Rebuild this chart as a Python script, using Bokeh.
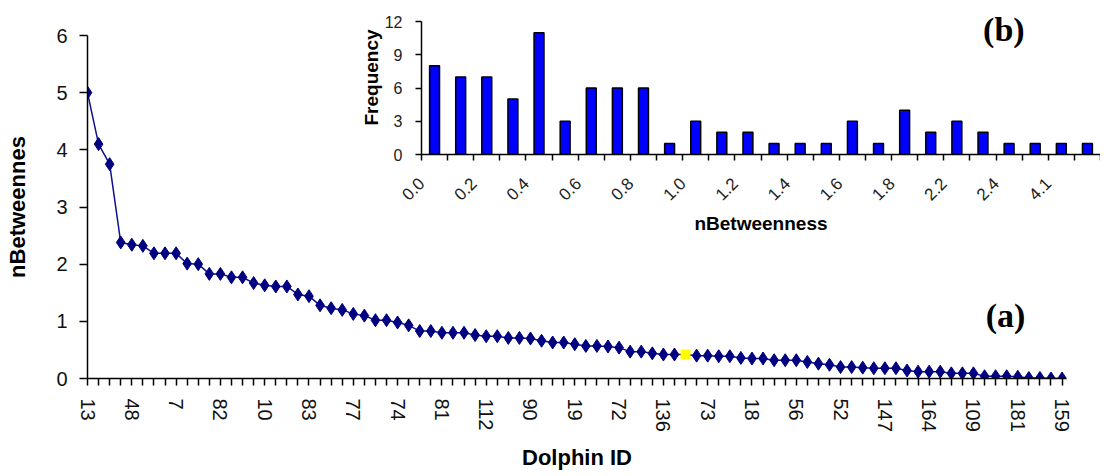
import math
from bokeh.plotting import figure
from bokeh.models import FixedTicker, Range1d, Label, ColumnDataSource
from bokeh.embed import file_html
from bokeh.resources import INLINE

# ---------------- data ----------------
# Dolphin IDs shown on the x axis (every 4th dolphin is labelled)
dolphin_ids_shown = ["13", "48", "7", "82", "10", "83", "77", "74", "81", "112", "90", "19",
                     "72", "136", "73", "18", "56", "52", "147", "164", "109", "181", "159"]
label_every = 4

# nBetweenness of the 89 dolphins, sorted descending
nbetweenness = [5.00, 4.10, 3.75, 2.38, 2.34, 2.32, 2.19, 2.19, 2.19, 2.01,
                2.00, 1.83, 1.83, 1.77, 1.77, 1.67, 1.63, 1.61, 1.61, 1.47,
                1.44, 1.28, 1.23, 1.20, 1.13, 1.10, 1.02, 1.02, 0.98, 0.93,
                0.83, 0.83, 0.80, 0.80, 0.80, 0.76, 0.74, 0.74, 0.71, 0.71,
                0.70, 0.66, 0.63, 0.63, 0.60, 0.57, 0.57, 0.56, 0.54, 0.47,
                0.47, 0.44, 0.42, 0.42, 0.42, 0.40, 0.40, 0.39, 0.39, 0.36,
                0.35, 0.35, 0.32, 0.32, 0.32, 0.29, 0.26, 0.24, 0.20, 0.20,
                0.19, 0.18, 0.18, 0.18, 0.14, 0.12, 0.12, 0.12, 0.09, 0.09,
                0.09, 0.04, 0.04, 0.04, 0.03, 0.01, 0.01, 0.00, 0.00]
highlight_index = 54   # the dolphin marked in yellow

# histogram (b)
bin_labels = ["0.0", "0.1", "0.2", "0.3", "0.4", "0.5", "0.6", "0.7", "0.8", "0.9",
              "1.0", "1.1", "1.2", "1.3", "1.4", "1.5", "1.6", "1.7", "1.8", "2.0",
              "2.2", "2.3", "2.4", "3.8", "4.1", "5.0"]
frequency = [8, 7, 7, 5, 11, 3, 6, 6, 6, 1, 3, 2, 2, 1, 1, 1, 3, 1, 4, 2, 3, 2, 1, 1, 1, 1]
freq_ticks = [0, 3, 6, 9, 12]

# ---------------- main chart (a) ----------------
n = len(nbetweenness)
xs = list(range(n))

p = figure(width=1104, height=474, x_range=Range1d(0, 88.4), y_range=Range1d(0, 6),
           output_backend="svg", toolbar_location=None,
           min_border_left=87, min_border_right=38, min_border_top=35, min_border_bottom=96)
p.outline_line_color = None
p.xgrid.visible = False
p.ygrid.visible = False
p.background_fill_color = "white"
p.border_fill_color = "white"

navy = "#000080"
p.line(xs, nbetweenness, line_color="#101090", line_width=1.5)
mask = [i != highlight_index for i in xs]
src = ColumnDataSource(dict(x=[x for x, m in zip(xs, mask) if m],
                            y=[y for y, m in zip(nbetweenness, mask) if m]))
p.scatter("x", "y", source=src, marker="diamond", size=13, fill_color=navy,
          line_color=navy, line_width=1)
p.scatter([xs[highlight_index]], [nbetweenness[highlight_index]], marker="square",
          size=10, fill_color="#FFFF00", line_color=None)

overrides = {}
for i in xs:
    overrides[i] = dolphin_ids_shown[i // label_every] if i % label_every == 0 else ""
ax = p.xaxis[0]
ax.ticker = FixedTicker(ticks=xs)
ax.major_label_overrides = overrides
ax.major_label_orientation = "vertical"
ax.minor_tick_line_color = None
ax.major_tick_in = 0
ax.major_tick_out = 7
ax.major_tick_line_width = 1.5
ax.axis_line_width = 1.5
ax.major_label_standoff = 13
ax.major_label_text_font = "Liberation Sans"
ax.major_label_text_font_size = "20px"
ax.major_label_text_color = "#111111"
ax.axis_label = "Dolphin ID"
ax.axis_label_text_font = "Liberation Sans"
ax.axis_label_text_font_style = "bold"
ax.axis_label_text_font_size = "22px"
ax.axis_label_text_color = "#000000"
ax.axis_label_standoff = 10

ay = p.yaxis[0]
ay.ticker = FixedTicker(ticks=[0, 1, 2, 3, 4, 5, 6])
ay.minor_tick_line_color = None
ay.major_tick_in = 0
ay.major_tick_out = 8
ay.major_tick_line_width = 1.5
ay.axis_line_width = 1.5
ay.major_label_standoff = 12
ay.major_label_text_font = "Liberation Sans"
ay.major_label_text_font_size = "20px"
ay.major_label_text_color = "#111111"
ay.axis_label = "nBetweennes"
ay.axis_label_text_font = "Liberation Sans"
ay.axis_label_text_font_style = "bold"
ay.axis_label_text_font_size = "22px"
ay.axis_label_text_color = "#000000"
ay.axis_label_standoff = 23

p.add_layout(Label(x=82.9, y=1.11, text="(a)", text_font="Liberation Serif",
                   text_font_style="bold", text_font_size="34px", text_color="#000000",
                   text_align="center", text_baseline="middle"))

# ---------------- inset histogram (b) ----------------
nb = len(frequency)
h = figure(width=760, height=248, x_range=Range1d(0, nb), y_range=Range1d(0, 13.9),
           output_backend="svg", toolbar_location=None,
           min_border_left=81, min_border_right=0, min_border_top=0, min_border_bottom=94)
h.outline_line_color = None
h.xgrid.visible = False
h.ygrid.visible = False
h.background_fill_alpha = 0
h.border_fill_alpha = 0

h.vbar(x=[i + 0.5 for i in range(nb)], top=frequency, width=0.38,
       fill_color="#0000FF", line_color="black", line_width=1.5)

hx = h.xaxis[0]
hx.ticker = FixedTicker(ticks=list(range(nb + 1)))
hx.major_label_overrides = {i: (bin_labels[i] if (i % 2 == 0 and i < nb) else "")
                            for i in range(nb + 1)}
hx.major_label_orientation = math.pi / 4
hx.minor_tick_line_color = None
hx.major_tick_in = 0
hx.major_tick_out = 6
hx.major_tick_line_width = 1.5
hx.axis_line_width = 1.5
hx.major_label_standoff = 20
hx.major_label_text_font = "Liberation Sans"
hx.major_label_text_font_size = "17px"
hx.major_label_text_color = "#222222"
hx.axis_label = "nBetweenness"
hx.axis_label_text_font = "Liberation Sans"
hx.axis_label_text_font_style = "bold"
hx.axis_label_text_font_size = "19px"
hx.axis_label_text_color = "#000000"
hx.axis_label_standoff = 4

hy = h.yaxis[0]
hy.ticker = FixedTicker(ticks=freq_ticks)
hy.bounds = (freq_ticks[0], freq_ticks[-1])
hy.minor_tick_line_color = None
hy.major_tick_in = 0
hy.major_tick_out = 6
hy.major_tick_line_width = 1.5
hy.axis_line_width = 1.5
hy.major_label_standoff = 13
hy.major_label_text_font = "Liberation Sans"
hy.major_label_text_font_size = "16px"
hy.major_label_text_color = "#222222"
hy.axis_label = "Frequency"
hy.axis_label_text_font = "Liberation Sans"
hy.axis_label_text_font_style = "bold"
hy.axis_label_text_font_size = "19px"
hy.axis_label_text_color = "#000000"
hy.axis_label_standoff = 0

h.add_layout(Label(x=22.3, y=11.3, text="(b)", text_font="Liberation Serif",
                   text_font_style="bold", text_font_size="34px", text_color="#000000",
                   text_align="center", text_baseline="middle"))

# the histogram is an inset drawn over the upper right of the main chart
h.styles = {"position": "absolute", "left": "340px", "top": "0px"}

open("out.html", "w").write(file_html([p, h], INLINE))
